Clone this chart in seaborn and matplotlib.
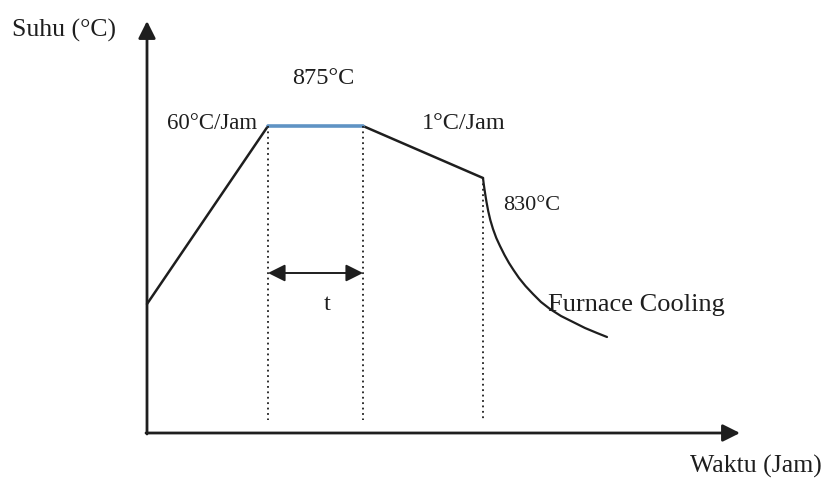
import matplotlib
matplotlib.use("Agg")
import matplotlib.pyplot as plt
import seaborn as sns

sns.set_theme(style="white")
plt.rcParams['font.family'] = ['Liberation Serif', 'DejaVu Serif']

# Schematic heat-treatment profile (arbitrary schematic units)
heat_time = [0, 121]
heat_temp = [129, 307]
hold_time = [121, 216]
hold_temp = [307, 307]
slow_time = [216, 336]
slow_temp = [307, 255]
cool_time = [336, 336.6, 337.3, 338.2, 339.5, 341.2, 343.3, 346, 349.3, 353, 357.5, 362, 366.5,
             372, 378.5, 386, 394, 403, 414, 426, 438, 450, 460]
cool_temp = [255, 250, 245, 239, 231, 222, 213, 204, 195, 187, 178, 170, 163,
             155, 147, 139, 131, 124, 117, 111, 105, 100, 96]
marks_time = [121, 216, 336]
marks_top = [307, 307, 255]

labels = {
    "ylabel": "Suhu (°C)",
    "xlabel": "Waktu (Jam)",
    "rate1": "60°C/Jam",
    "hold": "875°C",
    "rate2": "1°C/Jam",
    "end": "830°C",
    "cool": "Furnace Cooling",
    "t": "t",
}

fig = plt.figure(figsize=(8.27, 4.78), dpi=100)
ax = fig.add_axes([0, 0, 1, 1])
ax.set_xlim(-147, 680)
ax.set_ylim(-45, 433)
ax.set_axis_off()

dark = "#1e1e1e"
blue = "#5f93c4"

sns.lineplot(x=heat_time, y=heat_temp, ax=ax, color=dark, lw=1.8, sort=False)
sns.lineplot(x=slow_time, y=slow_temp, ax=ax, color=dark, lw=1.8, sort=False)
sns.lineplot(x=cool_time, y=cool_temp, ax=ax, color=dark, lw=1.6, sort=False)
sns.lineplot(x=hold_time, y=hold_temp, ax=ax, color=blue, lw=2.6, sort=False)

for xt, yt in zip(marks_time, marks_top):
    ax.plot([xt, xt], [yt, 13], color=dark, lw=1.3, ls=(0, (1, 2)))

# axes arrows
ax.annotate("", xy=(0, 412), xytext=(0, -1),
            arrowprops=dict(arrowstyle="-|>", color=dark, lw=2, mutation_scale=26, shrinkA=0, shrinkB=0))
ax.annotate("", xy=(593, 0), xytext=(-1, 0),
            arrowprops=dict(arrowstyle="-|>", color=dark, lw=2, mutation_scale=26, shrinkA=0, shrinkB=0))

# duration arrow
ax.annotate("", xy=(216, 160), xytext=(121, 160),
            arrowprops=dict(arrowstyle="<|-|>", color=dark, lw=1.4, mutation_scale=26, shrinkA=0, shrinkB=0))

ax.text(-135, 403, labels["ylabel"], fontsize=18.5, ha="left", va="center", color=dark)
ax.text(675, -33, labels["xlabel"], fontsize=18.5, ha="right", va="center", color=dark)
ax.text(110, 310, labels["rate1"], fontsize=16.5, ha="right", va="center", color=dark)
ax.text(176, 355, labels["hold"], fontsize=17.5, ha="center", va="center", color=dark)
ax.text(275, 310, labels["rate2"], fontsize=17.5, ha="left", va="center", color=dark)
ax.text(356, 228, labels["end"], fontsize=16, ha="left", va="center", color=dark)
ax.text(401, 128, labels["cool"], fontsize=19, ha="left", va="center", color=dark)
ax.text(180, 128, labels["t"], fontsize=17.5, ha="center", va="center", color=dark)

fig.savefig("out.png", dpi=100, facecolor="white")
